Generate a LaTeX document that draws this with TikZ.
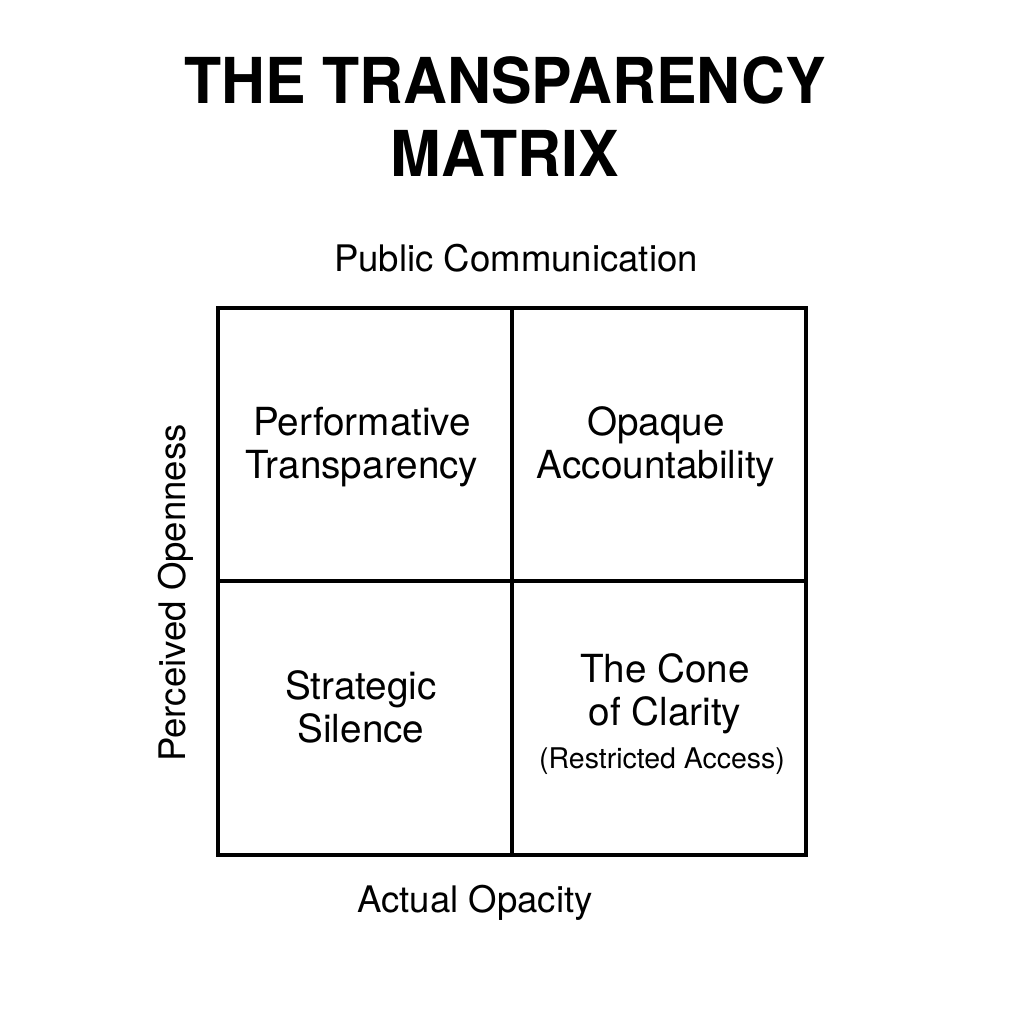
\documentclass[tikz,border=0pt]{standalone}
\usepackage{fontspec}
\setmainfont{TeX Gyre Heros}
\newfontfamily\titlefont[FakeStretch=0.96]{TeX Gyre Heros}
\usetikzlibrary{positioning}

\begin{document}
\begin{tikzpicture}[x=0.01cm,y=-0.01cm,
    grid/.style={line width=1.15pt,black},
    cell/.style={align=center,anchor=base,inner sep=0pt,font=\fontsize{11}{12}\selectfont},
    axis/.style={anchor=base,inner sep=0pt,font=\fontsize{10.4}{12}\selectfont}]
  \useasboundingbox[fill=white] (0,0) rectangle (1024,1024);
  % title
  \node[align=center,anchor=base,inner sep=0pt,font=\titlefont\bfseries\fontsize{18}{20.5}\selectfont] (title) at (505,176) {THE TRANSPARENCY\\MATRIX};
  % axis labels
  \node[axis] (top) at (516,271) {Public Communication};
  \node[axis] (bottom) at (475,912) {Actual Opacity};
  \node[axis,rotate=90] (left) at (185,593) {Perceived Openness};
  % the matrix
  \coordinate (nw) at (218,308);
  \coordinate (se) at (806,855);
  \draw[grid] (nw) rectangle (se);
  \draw[grid] (512,308) -- (512,855);
  \draw[grid] (218,581) -- (806,581);
  % quadrants
  \node[cell] (perf) at (362,478) {Performative\\Transparency};
  \node[cell] (opaque) at (656,478) {Opaque\\Accountability};
  \node[cell] (silence) at (361,742) {Strategic\\Silence};
  \node[cell] (cone) at (665,725) {The Cone\\of Clarity};
  \node[cell,font=\fontsize{8.1}{10}\selectfont] (access) at (662,768) {(Restricted Access)};
\end{tikzpicture}
\end{document}
